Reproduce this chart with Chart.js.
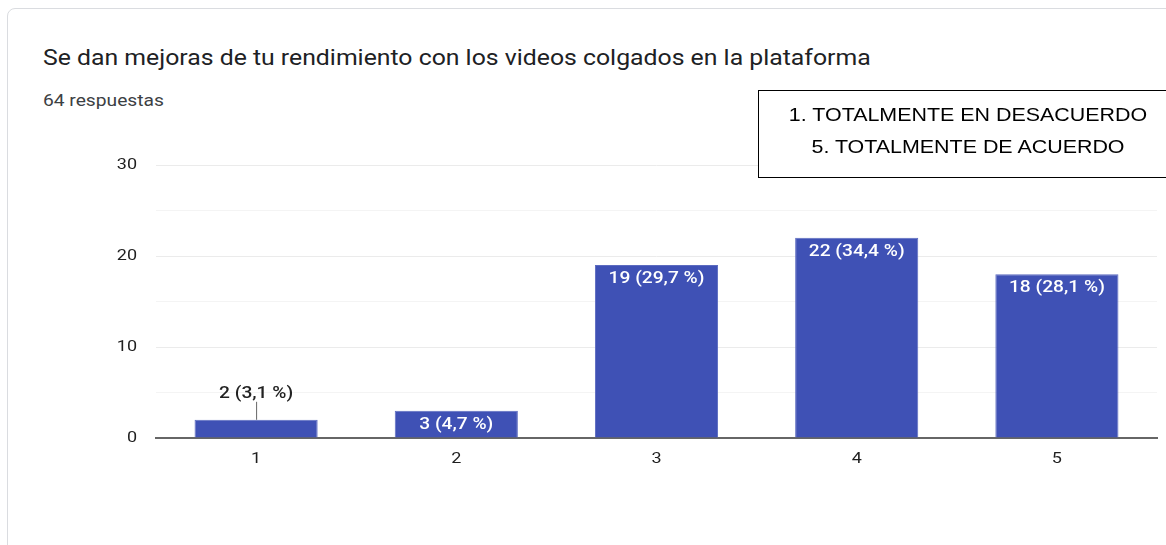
<!DOCTYPE html>
<html>
<head>
<meta charset="utf-8">
<script src="https://cdn.jsdelivr.net/npm/chart.js@4.4.1/dist/chart.umd.min.js"></script>
<style>
  html, body { margin: 0; padding: 0; background: #fff; }
  body { width: 1166px; height: 545px; position: relative; overflow: hidden; font-family: Roboto, "Noto Sans", sans-serif; }
  .card { position: absolute; left: 7px; top: 8px; width: 1200px; height: 600px; border: 1px solid #dadce0; border-radius: 8px; box-sizing: border-box; }
  .title { position: absolute; left: 43px; top: 45px; font-size: 22px; color: #202124; white-space: nowrap; transform: scaleX(1.127); transform-origin: 0 0; }
  .sub { position: absolute; left: 43px; top: 91px; font-size: 16px; color: #3c4043; white-space: nowrap; transform: scaleX(1.2); transform-origin: 0 0; }
  .note { position: absolute; left: 758px; top: 90px; width: 420px; height: 88px; border: 1.5px solid #000; box-sizing: border-box; background: #fff;
          font-family: "Liberation Sans", Arial, sans-serif; font-size: 18px; color: #000; }
  .note div { position: absolute; left: 0; width: 418px; text-align: center; transform: scaleX(1.19); transform-origin: 209px 0; white-space: nowrap; }
  #wrap { position: absolute; left: 0; top: 0; width: 1166px; height: 545px; }
</style>
</head>
<body>
<div class="card"></div>
<div class="title">Se dan mejoras de tu rendimiento con los videos colgados en la plataforma</div>
<div class="sub">64 respuestas</div>
<div id="wrap"><canvas id="c"></canvas></div>
<div class="note"><div style="top:14px">1. TOTALMENTE EN DESACUERDO</div><div style="top:46px">5. TOTALMENTE DE ACUERDO</div></div>
<script>
// valores de la encuesta (escala 1 a 5)
var categories = ['1', '2', '3', '4', '5'];
var counts = [2, 3, 19, 22, 18];
var percents = ['3,1', '4,7', '29,7', '34,4', '28,1'];
var yTicks = [0, 10, 20, 30];

var barColor = '#3f51b5';

// texto algo ensanchado, como en la captura
function wideText(ctx, txt, x, y) {
  ctx.save();
  ctx.translate(x, y);
  ctx.scale(1.2, 1);
  ctx.fillText(txt, 0, 0);
  ctx.restore();
}

// etiquetas encima o dentro de cada barra
var barLabels = {
  id: 'barLabels',
  afterDatasetsDraw: function (chart) {
    var ctx = chart.ctx;
    var meta = chart.getDatasetMeta(0);
    ctx.save();
    ctx.font = '500 16px Roboto, sans-serif';
    ctx.textAlign = 'center';
    ctx.textBaseline = 'middle';
    meta.data.forEach(function (bar, i) {
      var txt = counts[i] + ' (' + percents[i] + ' %)';
      var h = bar.base - bar.y;
      if (h >= 24) {
        ctx.fillStyle = '#ffffff';
        wideText(ctx, txt, bar.x, bar.y + 14);
      } else {
        ctx.strokeStyle = '#666';
        ctx.lineWidth = 1;
        ctx.beginPath();
        ctx.moveTo(bar.x + 0.5, bar.y);
        ctx.lineTo(bar.x + 0.5, bar.y - 18);
        ctx.stroke();
        ctx.fillStyle = '#222';
        wideText(ctx, txt, bar.x, bar.y - 26);
      }
    });
    ctx.restore();
  }
};

// marcas de los ejes dibujadas a mano para poder ensancharlas
var axisLabels = {
  id: 'axisLabels',
  afterDraw: function (chart) {
    var ctx = chart.ctx;
    var xs = chart.scales.x, ys = chart.scales.y;
    ctx.save();
    ctx.font = '15px Roboto, sans-serif';
    ctx.fillStyle = '#1f1f1f';
    ctx.textBaseline = 'middle';
    ctx.textAlign = 'right';
    yTicks.forEach(function (v) {
      wideText(ctx, String(v), 137, ys.getPixelForValue(v));
    });
    ctx.textAlign = 'center';
    categories.forEach(function (c, i) {
      wideText(ctx, c, xs.getPixelForValue(i), 459);
    });
    ctx.restore();
  }
};

new Chart(document.getElementById('c'), {
  type: 'bar',
  data: {
    labels: categories,
    datasets: [{
      data: counts,
      backgroundColor: barColor,
      borderColor: '#5c6bc0',
      borderWidth: 1,
      categoryPercentage: 0.615,
      barPercentage: 1
    }]
  },
  options: {
    responsive: true,
    maintainAspectRatio: false,
    animation: false,
    layout: { padding: { left: 0, right: 9, top: 165, bottom: 67 } },
    plugins: { legend: { display: false }, tooltip: { enabled: false } },
    scales: {
      x: {
        afterFit: function (s) { s.height = 40; },
        grid: { display: false, drawTicks: false },
        border: { color: '#666', width: 2 },
        ticks: { display: false }
      },
      y: {
        min: 0,
        max: 30,
        afterFit: function (s) { s.width = 156; },
        afterBuildTicks: function (s) {
          s.ticks = [0, 5, 10, 15, 20, 25, 30].map(function (v) { return { value: v }; });
        },
        grid: {
          drawTicks: false,
          color: function (c) { return c.tick.value % 10 === 0 ? '#ebebeb' : '#f4f4f4'; }
        },
        border: { display: false },
        ticks: { display: false }
      }
    }
  },
  plugins: [barLabels, axisLabels]
});
</script>
</body>
</html>
